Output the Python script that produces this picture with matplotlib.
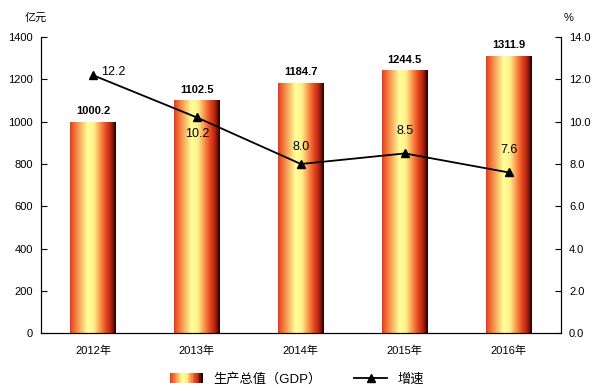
import numpy as np
import matplotlib
matplotlib.use('Agg')
import matplotlib.pyplot as plt
from matplotlib.colors import LinearSegmentedColormap
from matplotlib.patches import Rectangle
from matplotlib.legend_handler import HandlerBase
from matplotlib.lines import Line2D

plt.rcParams['font.family'] = ['Liberation Sans', 'Noto Sans CJK SC']

# data
years = ['2012年', '2013年', '2014年', '2015年', '2016年']
gdp = [1000.2, 1102.5, 1184.7, 1244.5, 1311.9]
growth = [12.2, 10.2, 8.0, 8.5, 7.6]

# bar gradient: red -> yellow -> red -> dark edge
cmap = LinearSegmentedColormap.from_list('bar', [
    (0.0, '#e63a1e'), (0.12, '#f47a3c'), (0.38, '#ffff9a'), (0.52, '#fff08a'),
    (0.75, '#f25a26'), (0.9, '#b02010'), (1.0, '#1a0000')])

fig = plt.figure(figsize=(5.94, 3.91), dpi=100)
ax = fig.add_axes([0.069, 0.148, 0.875, 0.757])
ax2 = ax.twinx()

x = np.arange(len(years))
bars = ax.bar(x, gdp, width=0.44, color='none', edgecolor='none', zorder=2)
grad = np.linspace(0, 1, 256).reshape(1, -1)
for b in bars:
    im = ax.imshow(grad, cmap=cmap, aspect='auto', zorder=2,
                   extent=[b.get_x(), b.get_x() + b.get_width(), 0, b.get_height()])
    im.set_clip_path(b)

for xi, v in zip(x, gdp):
    ax.text(xi, v + 25, f'{v:.1f}', ha='center', va='bottom', fontsize=8, fontweight='bold')

ax.set_xlim(-0.5, 4.5)
ax.set_ylim(0, 1400)
ax.set_yticks(range(0, 1401, 200))
ax.set_xticks(x)
ax.set_xticklabels(years)
ax2.set_ylim(0, 14)
ax2.set_yticks(np.arange(0, 14.1, 2))
ax2.set_yticklabels([f'{t:.1f}' for t in np.arange(0, 14.1, 2)])

for a in (ax, ax2):
    a.spines['top'].set_visible(False)
    a.tick_params(axis='y', direction='in', length=4, labelsize=8, pad=6)
ax.tick_params(axis='x', length=0, labelsize=8, pad=9)

ax2.plot(x, growth, color='black', lw=1.3, marker='^', markersize=6, zorder=5)
# label offsets in points (dx, dy, ha)
offsets = [(6, 2, 'left'), (0, -12, 'center'), (0, 12, 'center'),
           (0, 16, 'center'), (0, 16.5, 'center')]
for xi, v, (dx, dy, ha) in zip(x, growth, offsets):
    ax2.annotate(f'{v:.1f}', (xi, v), xytext=(dx, dy), textcoords='offset points',
                 ha=ha, va='center', fontsize=9)

fig.text(0.06, 0.955, '亿元', ha='center', va='center', fontsize=8)
fig.text(0.958, 0.955, '%', ha='center', va='center', fontsize=8)


class GradHandler(HandlerBase):
    def create_artists(self, legend, orig, xd, yd, width, height, fontsize, trans):
        n = 20
        arts = []
        for i in range(n):
            r = Rectangle((-xd + width * i / n, -yd), width / n + 0.3, height,
                          facecolor=cmap(i / (n - 1)), edgecolor='none', transform=trans)
            arts.append(r)
        return arts


proxy = Rectangle((0, 0), 1, 1)
line = Line2D([], [], color='black', lw=1.3, marker='^', markersize=6)
fig.legend([proxy, line], ['生产总值（GDP）', '增速'], handler_map={Rectangle: GradHandler()},
           loc='center', bbox_to_anchor=(0.5, 0.03), ncol=2, frameon=False,
           fontsize=9.5, handlelength=2.5, columnspacing=2.5)

fig.savefig('out.png', dpi=100)
